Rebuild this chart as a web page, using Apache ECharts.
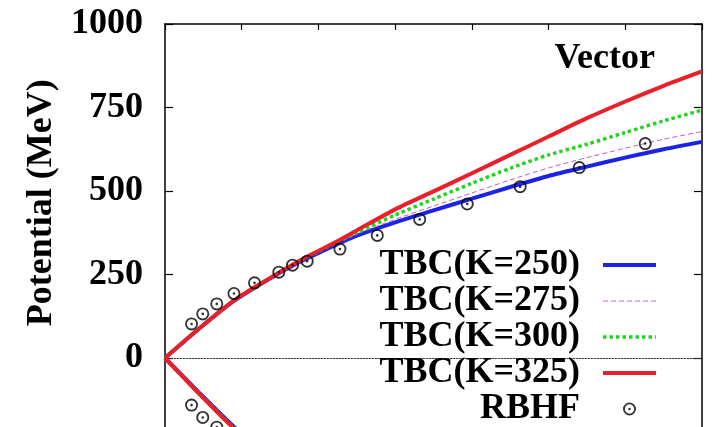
<!DOCTYPE html>
<html>
<head>
<meta charset="utf-8">
<script src="https://cdn.jsdelivr.net/npm/echarts@6/dist/echarts.min.js"></script>
<style>
html,body{margin:0;padding:0;background:#fff;}
#chart{width:717px;height:427px;}
</style>
</head>
<body>
<div id="chart"></div>
<script>
// density (fm^-3) grid for TBC curves
const rhoGrid = [0, 0.045, 0.088, 0.133, 0.176, 0.219, 0.25, 0.3, 0.35, 0.4, 0.45, 0.5, 0.55, 0.6, 0.65, 0.7];
const vK250 = [0, 89, 168, 233, 288, 335, 366, 406, 442, 477, 512, 545, 573, 600, 625, 647];
const vK275 = [0, 89, 168, 234, 290, 339, 371, 415, 455, 494, 533, 569, 600, 628, 655, 678];
const vK300 = [0, 89, 168, 234, 291, 341, 375, 428, 476, 523, 568, 608, 640, 675, 710, 742];
const vK325 = [0, 89, 169, 234, 292, 343, 382, 445, 499, 553, 608, 663, 718, 768, 815, 858];
// scalar (negative) branch, only start visible
const rhoS = [0, 0.045, 0.088, 0.133];
const sK250 = [0, -105, -202, -293];
const sK275 = [0, -106, -204, -296];
const sK300 = [0, -107, -205, -298];
const sK325 = [0, -108, -207, -300];
// RBHF points
const rhoRBHF = [0.0346, 0.0492, 0.0675, 0.0899, 0.1167, 0.1484, 0.1662, 0.1853, 0.228, 0.2767, 0.332, 0.394, 0.463, 0.540, 0.626];
const vRBHF = [102, 132, 162, 193, 225, 257, 278, 290, 326, 367, 415, 461, 513, 570, 642];
const rhoRBHFs = [0.0346, 0.0492, 0.0675];
const sRBHF = [-141, -178, -207];
const yTicks = [-250, 0, 250, 500, 750, 1000];

const names = ['TBC(K=250)', 'TBC(K=275)', 'TBC(K=300)', 'TBC(K=325)', 'RBHF'];
const zip = (xs, ys) => xs.map((x, i) => [x, ys[i]]);

const FONT = '"Liberation Serif", "Times New Roman", serif';
const styles = [
  {color: '#1a23e6', width: 4, type: 'solid'},
  {color: '#c05ac8', width: 1, type: [5, 3]},
  {color: '#22d322', width: 3.5, type: [3.5, 3]},
  {color: '#e8202a', width: 4, type: 'solid'}
];
const vec = [vK250, vK275, vK300, vK325];
const sca = [sK250, sK275, sK300, sK325];

const series = [];
for (let i = 0; i < 4; i++) {
  const ls = {color: styles[i].color, width: styles[i].width, type: styles[i].type, cap: 'butt'};
  series.push({
    name: names[i], type: 'line', symbol: 'none', smooth: 0.25,
    lineStyle: ls, itemStyle: {color: styles[i].color},
    data: zip(rhoGrid, vec[i]), z: 3 + i
  });
  series.push({
    name: names[i], type: 'line', symbol: 'none', smooth: 0.25,
    lineStyle: ls, itemStyle: {color: styles[i].color},
    data: zip(rhoS, sca[i]), z: 3 + i
  });
}
const ringPath = 'path://M0,-10A10,10,0,1,1,0,10A10,10,0,1,1,0,-10Z' +
  'M0,-7.2A7.2,7.2,0,1,0,0,7.2A7.2,7.2,0,1,0,0,-7.2Z' +
  'M0,-2A2,2,0,1,1,0,2A2,2,0,1,1,0,-2Z';
series.push({
  name: 'RBHF', type: 'scatter', symbol: ringPath, symbolSize: 13, symbolKeepAspect: true,
  itemStyle: {color: '#000'}, z: 10,
  data: zip(rhoRBHF, vRBHF).concat(zip(rhoRBHFs, sRBHF))
});

const legendData = names.map((n, i) => i < 4 ? {
  name: n,
  itemStyle: {opacity: 0},
  lineStyle: {color: styles[i].color, width: styles[i].width, type: styles[i].type, cap: 'butt'}
} : {name: n});

const chart = echarts.init(document.getElementById('chart'), null, {renderer: 'canvas'});
chart.setOption({
  animation: false,
  backgroundColor: '#fff',
  title: {
    text: 'Vector', right: 62, top: 41, padding: 0,
    textStyle: {fontFamily: FONT, fontWeight: 'bold', fontSize: 36, color: '#000'}
  },
  grid: {left: 165, top: 24, width: 537, height: 417.5, containLabel: false, outerBoundsMode: 'none'},
  xAxis: [
    // bottom axis sits on y = 0 and acts as the dotted zero line
    {type: 'value', min: 0, max: 0.7, interval: 0.1, position: 'bottom',
     axisLine: {show: true, onZero: true, lineStyle: {color: '#333', width: 1, type: [1.5, 1.5]}},
     axisTick: {show: false}, axisLabel: {show: false}, splitLine: {show: false}, z: 1},
    {type: 'value', min: 0, max: 0.7, interval: 0.1, position: 'top',
     axisLine: {show: true, onZero: false, lineStyle: {color: '#000', width: 1.5}},
     axisTick: {show: true, inside: true, length: 6, lineStyle: {color: '#000', width: 1.2}},
     axisLabel: {show: false}, splitLine: {show: false}}
  ],
  yAxis: [
    {type: 'value', min: yTicks[0], max: yTicks[yTicks.length - 1], interval: 250, position: 'left',
     name: 'Potential (MeV)', nameLocation: 'middle', nameGap: 105, nameRotate: 90,
     nameTextStyle: {fontFamily: FONT, fontWeight: 'bold', fontSize: 36, color: '#000', padding: [0, 0, 0, 60]},
     axisLine: {show: true, onZero: false, lineStyle: {color: '#000', width: 1.5}},
     axisTick: {show: true, inside: true, length: 8, lineStyle: {color: '#000', width: 1.2}},
     axisLabel: {margin: 22, fontFamily: FONT, fontWeight: 'bold', fontSize: 36, color: '#000',
                 formatter: v => String(v)},
     splitLine: {show: false}},
    {type: 'value', min: yTicks[0], max: yTicks[yTicks.length - 1], interval: 250, position: 'right',
     axisLine: {show: true, onZero: false, lineStyle: {color: '#000', width: 1.5}},
     axisTick: {show: true, inside: true, length: 8, lineStyle: {color: '#000', width: 1.2}},
     axisLabel: {show: false}, splitLine: {show: false}}
  ],
  legend: {
    data: legendData, orient: 'vertical', align: 'right', right: 59, top: 247, padding: 0,
    itemGap: 0, itemWidth: 53, itemHeight: 13, selectedMode: false,
    formatter: '{a|{name}}',
    textStyle: {
      rich: {a: {width: 200, align: 'right', fontFamily: FONT, fontWeight: 'bold', fontSize: 36,
                 lineHeight: 36.75, color: '#000', padding: [0, 18, 0, 0]}}
    }
  },
  series: series
});
</script>
</body>
</html>
